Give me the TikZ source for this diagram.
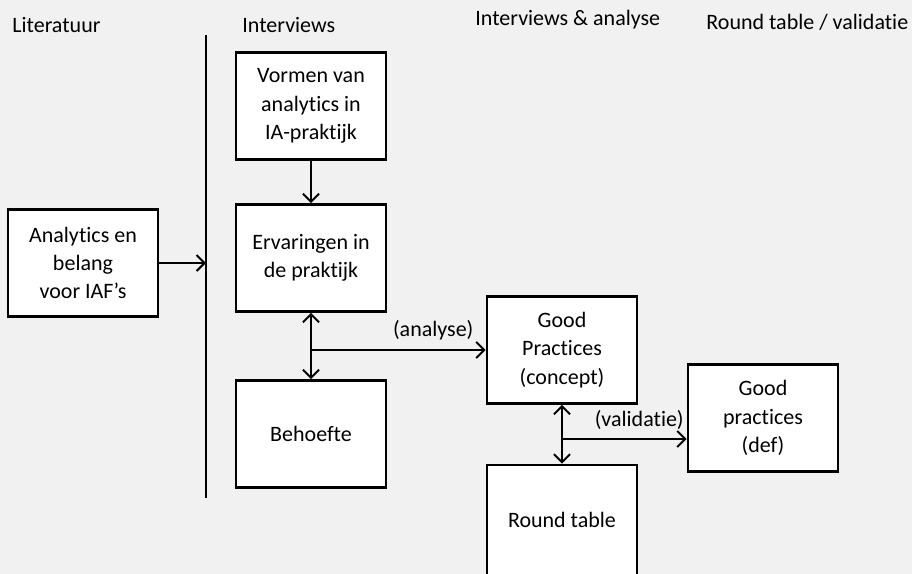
\documentclass[tikz,border=0pt]{standalone}
\usepackage{fontspec}
\setmainfont[Ligatures={NoCommon}]{Carlito}
\usetikzlibrary{arrows, arrows.meta}
\usetikzlibrary{calc}
\definecolor{achtergrond}{RGB}{241,241,241}

\begin{document}
\begin{tikzpicture}[x=0.5pt, y=-0.5pt,
    font=\fontsize{11}{14.2}\selectfont,
    blok/.style={draw, fill=white, line width=1.4pt, align=center, inner sep=0pt,
                 minimum width=75pt, minimum height=53.5pt},
    pijl/.style={line width=1pt, -{Straight Barb[length=4pt, width=8pt]}},
    dubbel/.style={line width=1pt, {Straight Barb[length=4pt, width=8pt]}-{Straight Barb[length=4pt, width=8pt]}},
    kop/.style={anchor=west, inner sep=0pt}]
      \fill[achtergrond] (0,0) rectangle (912,574);
      \useasboundingbox (0,0) rectangle (912,574);

      % kolomkoppen
      \node[kop] (kop1) at (12,25) {Literatuur};
      \node[kop] (kop2) at (242,25) {Interviews};
      \node[kop] (kop3) at (475,20) {Interviews \& analyse};
      \node[kop] (kop4) at (706,22) {Round table / validatie};

      \coordinate (lijnboven) at (206,35);
      \coordinate (lijnonder) at (206,498);
      \draw[line width=0.8pt] (lijnboven) -- (lijnonder);

      \node[blok] (analytics) at (83,263) {Analytics en\\belang\\voor IAF’s};
      \node[blok] (vormen) at (311,106) {Vormen van\\analytics in\\IA-praktijk};
      \node[blok] (ervaringen) at (311,258) {Ervaringen in\\de praktijk};
      \node[blok] (behoefte) at (311,434) {Behoefte};
      \node[blok] (concept) at (562,350) {Good\\Practices\\(concept)};
      \node[blok] (def) at (763,418) {Good\\practices\\(def)};
      \node[blok, minimum height=55pt] (ronde) at (562,520) {Round table};

      \draw[pijl] (analytics.east) -- (analytics.east -| lijnboven);
      \draw[pijl] (vormen) -- (ervaringen);
      \draw[dubbel] (ervaringen) -- (behoefte);
      \draw[pijl] (concept.west -| ervaringen.south) -- node[pos=0.7, above=1pt] {(analyse)} (concept.west);
      \draw[dubbel] (concept) -- (ronde);
      \coordinate (tak) at (562,439);
      \draw[pijl] (tak) -- node[pos=0.62, above=1pt] {(validatie)} (tak -| def.west);
    \end{tikzpicture}
\end{document}
